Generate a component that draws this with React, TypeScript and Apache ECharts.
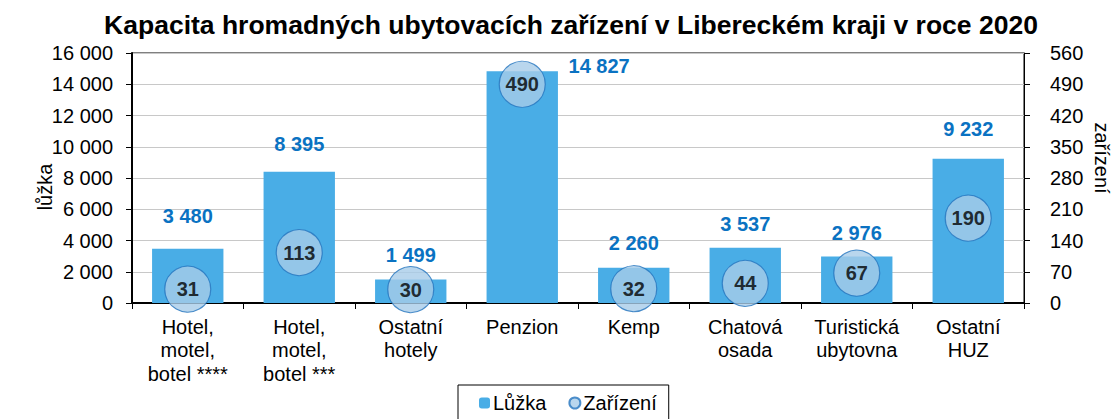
import React, { useEffect, useRef } from "react";
import * as echarts from "echarts";

const categories = [
  "Hotel,\nmotel,\nbotel ****",
  "Hotel,\nmotel,\nbotel ***",
  "Ostatní\nhotely",
  "Penzion",
  "Kemp",
  "Chatová\nosada",
  "Turistická\nubytovna",
  "Ostatní\nHUZ",
];
const beds = [3480, 8395, 1499, 14827, 2260, 3537, 2976, 9232];
const facilities = [31, 113, 30, 490, 32, 44, 67, 190];
const leftTicks = { min: 0, max: 16000, interval: 2000 };
const rightTicks = { min: 0, max: 560, interval: 70 };

// label layout tweaks (pixels above bar top)
const labelLift = [32, 27, 24, 0, 24, 23, 23, 29];

const FONT = "'Liberation Sans', Arial, sans-serif";
const fmt = (v: number) => String(v).replace(/\B(?=(\d{3})+(?!\d))/g, " ");

export default function App() {
  const ref = useRef<HTMLDivElement>(null);
  useEffect(() => {
    if (!ref.current) return;
    const chart = echarts.init(ref.current, undefined, { renderer: "svg" });
    const barData = beds.map((v, i) => {
      if (i === 3) {
        return {
          value: v,
          label: {
            position: [82, -5],
            align: "left",
            verticalAlign: "middle",
          },
        };
      }
      return {
        value: v,
        label: { position: "top", distance: 2, offset: [0, -(labelLift[i] - 11)] },
      };
    });
    chart.setOption({
      animation: false,
      textStyle: { fontFamily: FONT },
      title: {
        text: "Kapacita hromadných ubytovacích zařízení v Libereckém kraji v roce 2020",
        left: 566,
        textAlign: "center",
        top: 6,
        textStyle: { fontFamily: FONT, fontSize: 26.5, fontWeight: "bold", color: "#000" },
      },
      legend: {
        top: 385,
        left: 458,
        data: ["Lůžka", "Zařízení"],
        itemWidth: 11,
        itemHeight: 11,
        itemGap: 22,
        borderColor: "#000",
        borderWidth: 1,
        padding: [8, 12, 8, 21],
        textStyle: { fontFamily: FONT, fontSize: 20, color: "#000", padding: [0, 0, 0, -2] },
      },
      grid: {
        left: 132,
        right: 95,
        top: 53,
        bottom: 116,
        show: true,
        borderColor: "#000",
        borderWidth: 1,
      },
      xAxis: {
        type: "category",
        data: categories,
        axisLine: { lineStyle: { color: "#000", width: 2 } },
        axisTick: { show: true, length: 6, lineStyle: { color: "#000" } },
        axisLabel: {
          interval: 0,
          color: "#000",
          fontSize: 20,
          lineHeight: 23.5,
          margin: 12,
          fontFamily: FONT,
        },
      },
      yAxis: [
        {
          type: "value",
          ...leftTicks,
          axisLine: { show: true, lineStyle: { color: "#000", width: 2 } },
          axisTick: { show: true, length: 6, lineStyle: { color: "#000" } },
          splitLine: { lineStyle: { color: "#C8C8C8", width: 1 } },
          axisLabel: { color: "#000", fontSize: 20, margin: 19, fontFamily: FONT, formatter: fmt },
        },
        {
          type: "value",
          ...rightTicks,
          position: "right",
          axisLine: { show: true, lineStyle: { color: "#000", width: 1 } },
          axisTick: { show: true, length: 6, lineStyle: { color: "#000" } },
          splitLine: { show: false },
          axisLabel: { color: "#000", fontSize: 20, margin: 26, fontFamily: FONT },
        },
      ],
      graphic: [
        {
          type: "text",
          x: 45,
          y: 187,
          rotation: Math.PI / 2,
          style: {
            text: "lůžka",
            font: `20px ${FONT}`,
            fill: "#000",
            align: "center",
            verticalAlign: "middle",
          },
        },
        {
          type: "text",
          x: 1102,
          y: 158,
          rotation: -Math.PI / 2,
          style: {
            text: "zařízení",
            font: `20px ${FONT}`,
            fill: "#000",
            align: "center",
            verticalAlign: "middle",
          },
        },
      ],
      series: [
        {
          name: "Lůžka",
          type: "bar",
          yAxisIndex: 0,
          data: barData,
          barCategoryGap: "36%",
          itemStyle: { color: "#49ADE6" },
          label: {
            show: true,
            color: "#0A72C2",
            fontWeight: "bold",
            fontSize: 20,
            fontFamily: FONT,
            formatter: (p: any) => fmt(p.value),
          },
        },
        {
          name: "Zařízení",
          type: "scatter",
          yAxisIndex: 1,
          data: facilities,
          symbol: "circle",
          symbolSize: 46,
          z: 5,
          itemStyle: { color: "#A8CCE8", borderColor: "#2474BE", borderWidth: 1.2 },
          label: {
            show: true,
            position: "inside",
            color: "#000",
            fontWeight: "bold",
            fontSize: 20,
            fontFamily: FONT,
          },
        },
      ],
    });
    return () => chart.dispose();
  }, []);
  return (
    <div
      ref={ref}
      style={{ position: "fixed", left: 0, top: 0, width: 1119, height: 419, background: "#fff" }}
    />
  );
}
